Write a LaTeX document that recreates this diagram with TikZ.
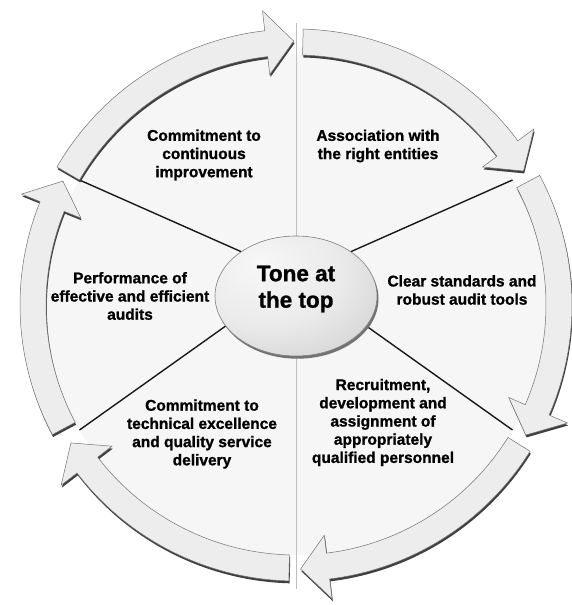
\documentclass[tikz,border=0pt]{standalone}
\usepackage{fontspec}
\setmainfont{Liberation Sans}[BoldFeatures={FakeBold=1.1}]
\usetikzlibrary{shapes.geometric}
\pgfdeclareradialshading{discshade}{\pgfpoint{-12bp}{14bp}}{color(0bp)=(gray!6); color(22bp)=(gray!16); color(38bp)=(gray!34); color(50bp)=(gray!60); color(70bp)=(gray!75)}
\begin{document}
\begin{tikzpicture}[x=1pt,y=1pt,
  lbl/.style={font=\bfseries\fontsize{15.5}{18.2}\selectfont, align=center, text=black},
  divider/.style={black!90, line width=1.4pt},
  faintline/.style={gray!50, line width=0.6pt},
  band/.style={fill=gray!14, draw=black!55, line width=0.5pt},
  bandshadow/.style={fill=black!75},
]
\useasboundingbox (0,0) rectangle (572,605);
\coordinate (O) at (296,300);
\coordinate (P0) at (296,329);
% light disc
\fill[gray!7] (O) circle[radius=250pt];
% end points of the dividers
\begin{scope}[shift={(O)}]
  \coordinate (e30) at (30:250pt);
  \coordinate (e150) at (150:250pt);
  \coordinate (e210) at (210:250pt);
  \coordinate (e330) at (330:250pt);
  \coordinate (vtop) at (90:282pt);
  \coordinate (vbot) at (-90:284pt);
\end{scope}
\draw[faintline] (vtop) -- (vbot);
\foreach \e in {e30,e150,e210,e330} \draw[divider] (P0) -- (\e);
% ring arrows
\begin{scope}[shift={(O)}]
\foreach \T/\P in {150/90.5, 88.5/30.5, 28/-29.5, -32/-89, -91.5/-148.5, 208/152} {
  \pgfmathsetmacro\B{\P+6}
  \fill[bandshadow, shift={(0.8,-2.4)}] (\T:250pt) arc[start angle=\T, end angle=\B, radius=250pt] -- (\B:232pt) -- (\P:264pt) -- (\B:296pt) -- (\B:276pt) arc[start angle=\B, end angle=\T, radius=276pt] -- cycle;
  \filldraw[band] (\T:250pt) arc[start angle=\T, end angle=\B, radius=250pt] -- (\B:232pt) -- (\P:264pt) -- (\B:296pt) -- (\B:276pt) arc[start angle=\B, end angle=\T, radius=276pt] -- cycle;
}
\end{scope}
% centre disc
\fill[black!55] (297.5,306.3) ellipse[x radius=81pt, y radius=60pt];
\node[ellipse, minimum width=162pt, minimum height=120pt, inner sep=0pt, shading=discshade, draw=black!50, line width=0.6pt] (core) at (296,309) {};
\node[font=\bfseries\fontsize{22.5}{26.5}\selectfont, align=center] (tone) at (296,316) {Tone at\\the top};
% sector labels
\node[lbl] (t1) at (204,450) {Commitment to\\continuous\\improvement};
\node[lbl] (t2) at (378,459) {Association with\\the right entities};
\node[lbl] (t3) at (130,309) {Performance of\\effective and efficient\\audits};
\node[lbl] (t4) at (462,315) {Clear standards and\\robust audit tools};
\node[lbl] (t5) at (383,182.5) {Recruitment,\\development and\\assignment of\\appropriately\\qualified personnel};
\node[lbl] (t6) at (202,171) {Commitment to\\technical excellence\\and quality service\\delivery};
\end{tikzpicture}
\end{document}
